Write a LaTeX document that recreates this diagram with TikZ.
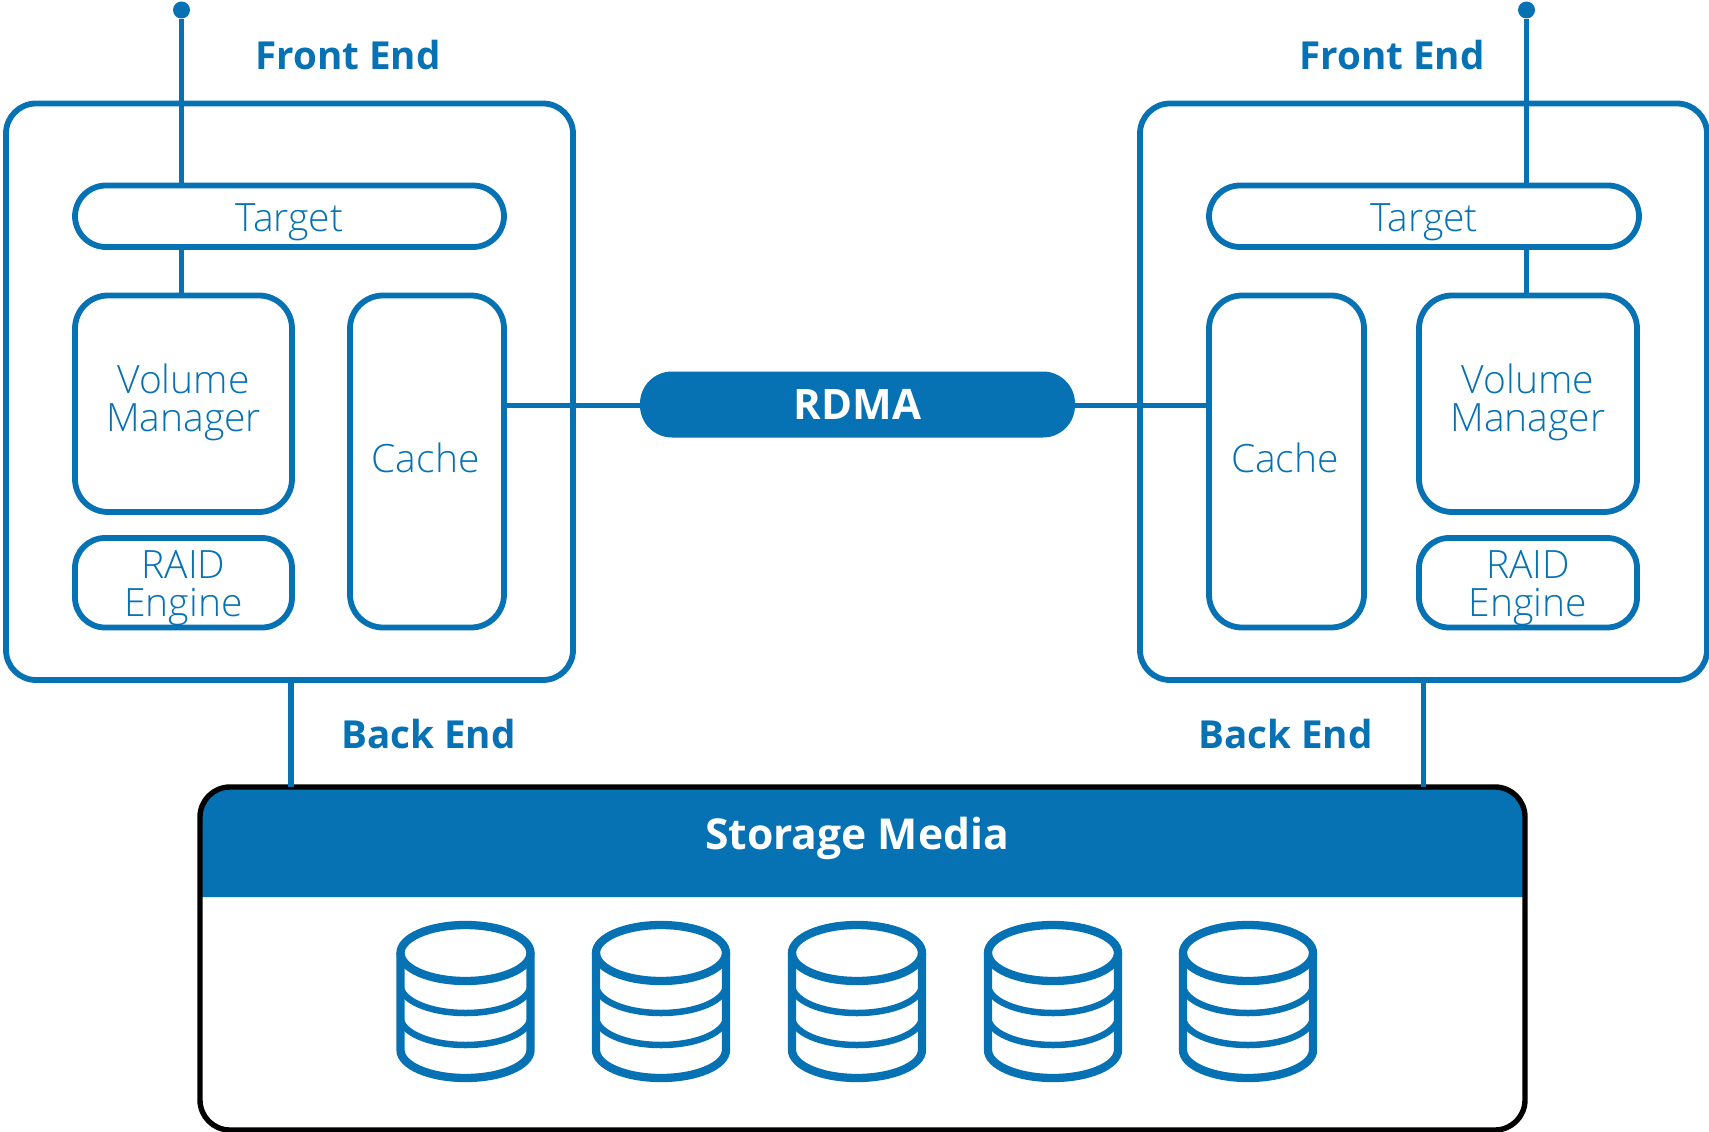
\documentclass[tikz,border=0pt]{standalone}
\usepackage{fontspec}
\setmainfont{Open Sans}
\newfontfamily\lightface{Open Sans Light}
\definecolor{brand}{HTML}{0672B4}
\tikzset{
  x=1pt,y=-1pt,
  wire/.style={draw=brand,line width=5.8pt},
  box/.style={draw=brand,line width=5.8pt,rounded corners=#1,inner sep=0pt,outer sep=0pt},
  box/.default=33pt,
  boxtext/.style={text=brand,align=center,inner sep=0pt,font=\lightface\fontsize{39}{38}\selectfont},
  head/.style={text=brand,font=\bfseries\fontsize{38.6}{38}\selectfont,inner sep=0pt},
  dotend/.style={circle,fill=brand,minimum size=17pt,inner sep=0pt},
}
% [radius]{name}{x1}{y1}{x2}{y2}{dx}{dy}{text}
\newcommand{\place}[9][33pt]{%
  \node[box=#1,minimum width=#5pt-#3pt,minimum height=#6pt-#4pt,
        label={[boxtext,xshift=#7pt,yshift=#8pt]center:#9}] (#2) at ({(#3+#5)/2},{(#4+#6)/2}) {};}
\begin{document}
\begin{tikzpicture}
\useasboundingbox (0,0) rectangle (1709,1132);
% left side
\place[30pt]{outL}{6}{103.5}{573}{680}{0}{0}{}
\place[31pt]{tarL}{75}{185.5}{504}{247}{0}{-5.8}{Target}
\place{volL}{75}{295.5}{292}{512}{0}{1}{Volume\\Manager}
\place[30pt]{raidL}{75}{538}{292}{627.5}{0}{-5.5}{RAID\\Engine}
\place{cacL}{350}{295.5}{504}{627.5}{-1.5}{4}{Cache}
% right side
\place[30pt]{outR}{1140}{103.5}{1707}{680}{0}{0}{}
\place[31pt]{tarR}{1209}{185.5}{1639}{247}{0}{-5.8}{Target}
\place{volR}{1419}{295.5}{1637}{512}{0}{1}{Volume\\Manager}
\place[30pt]{raidR}{1419}{538}{1637}{627.5}{0}{-5.5}{RAID\\Engine}
\place{cacR}{1209}{295.5}{1364}{627.5}{-1.5}{4}{Cache}
% RDMA
\node[fill=brand,rounded corners=32pt,minimum width=435pt,minimum height=66pt,inner sep=0pt,text=white,font=\bfseries\fontsize{42}{42}\selectfont] (rdma) at (857.5,404.5) {RDMA};
\coordinate (rdmaY) at (857.5,405.5);
% storage
\node[minimum width=1325pt,minimum height=343pt,inner sep=0pt,outer sep=0pt] (store) at (862.5,958.5) {};
\fill[brand] ([yshift=-110pt]store.north west) [rounded corners=30pt] -- (store.north west) -- (store.north east) [sharp corners] -- ([yshift=-110pt]store.north east) -- cycle;
\draw[black,line width=5.4pt,rounded corners=30pt] (store.north west) rectangle (store.south east);
\node[text=white,font=\bfseries\fontsize{42.6}{42}\selectfont,inner sep=0pt] (storeT) at (857,838.5) {Storage Media};
% disks
\foreach \c in {465.5,661,857,1053,1248}{
  \draw[brand,line width=8.3pt] (\c,953) ellipse [x radius=65,y radius=28];
  \draw[brand,line width=8.3pt] (\c-65,953) -- (\c-65,1050) arc [start angle=180,end angle=0,x radius=65,y radius=28] -- (\c+65,953);
  \draw[brand,line width=6.5pt] (\c-65,985) arc [start angle=180,end angle=0,x radius=65,y radius=28];
  \draw[brand,line width=6.5pt] (\c-65,1017) arc [start angle=180,end angle=0,x radius=65,y radius=28];
}
% labels
\node[head] (feL) at (348,55.5) {Front End};
\node[head] (feR) at (1392,55.5) {Front End};
\node[head] (beL) at (428.5,734) {Back End};
\node[head] (beR) at (1285.5,734) {Back End};
% connectors
\node[dotend] (dotL) at (181.5,10) {};
\node[dotend] (dotR) at (1526.5,10) {};
\draw[wire] (dotL) -- (dotL |- tarL.north);
\draw[wire] (dotL |- tarL.south) -- (dotL |- volL.north);
\draw[wire] (dotR) -- (dotR |- tarR.north);
\draw[wire] (dotR |- tarR.south) -- (dotR |- volR.north);
\draw[wire] (cacL.east |- rdmaY) -- (rdmaY -| rdma.west);
\draw[wire] (rdmaY -| rdma.east) -- (cacR.west |- rdmaY);
\coordinate (bkL) at (291,0);
\coordinate (bkR) at (1423.5,0);
\draw[wire] (bkL |- outL.south) -- (bkL |- store.north);
\draw[wire] (bkR |- outR.south) -- (bkR |- store.north);
\end{tikzpicture}
\end{document}
